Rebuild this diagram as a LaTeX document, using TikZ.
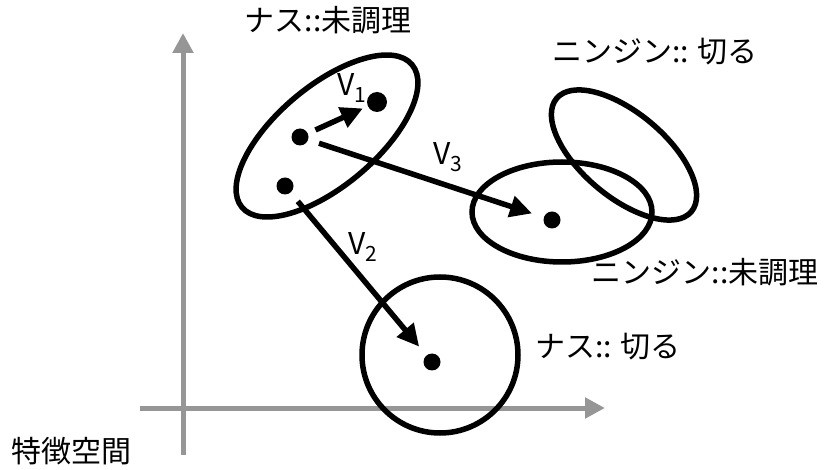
\documentclass[tikz,border=0pt]{standalone}
\usepackage{fontspec}
\setmainfont{Noto Sans CJK JP}
\usetikzlibrary{arrows.meta,positioning,shapes.geometric}
\definecolor{ink}{RGB}{0,0,0}
\definecolor{axisgray}{RGB}{150,150,150}
\tikzset{
  every picture/.style={color=ink, line width=5pt, font=\fontsize{30}{34}\selectfont},
  dot/.style={circle, fill=ink, inner sep=0pt, minimum size=17pt},
  bigdot/.style={dot, minimum size=20pt},
  cluster/.style={ellipse, draw=ink, line width=5.5pt, inner sep=0pt},
  vec/.style={-{Triangle[length=22pt,width=21pt]}, line width=5.5pt},
  axisline/.style={-{Triangle[length=20pt,width=20pt]}, draw=axisgray, line width=5pt},
  lbl/.style={inner sep=0pt, text=ink},
}

\begin{document}
\begin{tikzpicture}[x=1pt, y=1pt]
  \useasboundingbox (0,0) rectangle (825,469);
  % axes
  \coordinate (ybot) at (183,14);
  \coordinate (ytop) at (183,436);
  \coordinate (xlft) at (140,61);
  \coordinate (xrgt) at (605,61);
  \draw[axisline] (ybot) -- (ytop);
  \draw[axisline] (xlft) -- (xrgt);
  \node[lbl] (space) at (72,18) {特徴空間};
  % clusters
  \node[cluster, minimum width=222pt, minimum height=100pt, rotate=40] (nasuraw) at (327,333) {};
  \node[cluster, minimum width=180pt, minimum height=100pt] (carrotraw) at (562,257) {};
  \node[cluster, minimum width=176pt, minimum height=84pt, rotate=-40] (carrotcut) at (624,314) {};
  \node[cluster, circle, minimum size=156pt] (nasucut) at (440,114) {};
  % points
  \node[dot] (p1) at (300,332) {};
  \node[bigdot] (q1) at (377,367) {};
  \node[dot] (r1) at (285,283) {};
  \node[dot] (q2) at (432,107) {};
  \node[dot] (q3) at (552,249) {};
  % vectors
  \draw[vec, shorten <=6pt, shorten >=3pt] (p1) -- (q1);
  \draw[vec, shorten <=9pt, shorten >=10pt] (p1) -- (q3);
  \draw[vec, shorten <=9pt, shorten >=9pt] (r1) -- (q2);
  \node[lbl] (v1) at (352,381) {V\textsubscript{1}};
  \node[lbl] (v2) at (363,222) {V\textsubscript{2}};
  \node[lbl] (v3) at (448,312) {V\textsubscript{3}};
  % names
  \node[lbl] (nasurawlbl) at (328,449) {ナス::未調理};
  \node[lbl] (carrotcutlbl) at (655,417) {ニンジン:: 切る};
  \node[lbl] (carrotrawlbl) at (705,197) {ニンジン::未調理};
  \node[lbl] (nasucutlbl) at (608,122) {ナス:: 切る};
\end{tikzpicture}
\end{document}
